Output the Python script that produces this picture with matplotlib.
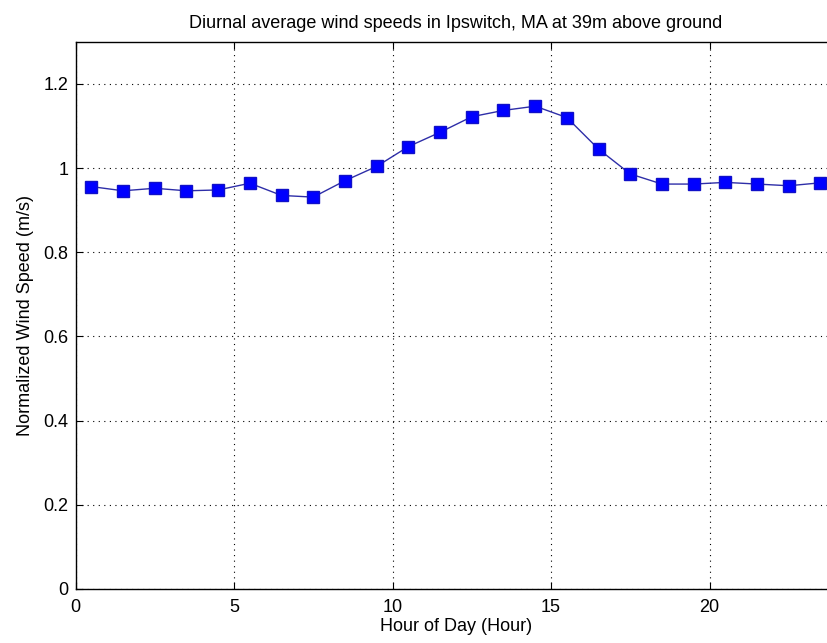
import matplotlib
matplotlib.use("Agg")
import matplotlib.pyplot as plt

hours = [0.5, 1.5, 2.5, 3.5, 4.5, 5.5, 6.5, 7.5, 8.5, 9.5, 10.5, 11.5,
         12.5, 13.5, 14.5, 15.5, 16.5, 17.5, 18.5, 19.5, 20.5, 21.5, 22.5, 23.5]
speed = [0.956, 0.946, 0.952, 0.946, 0.948, 0.964, 0.935, 0.931, 0.970, 1.004, 1.051, 1.085,
         1.122, 1.137, 1.147, 1.120, 1.045, 0.986, 0.962, 0.962, 0.966, 0.962, 0.958, 0.965]
xticks = [0, 5, 10, 15, 20]
yticks = [0, 0.2, 0.4, 0.6, 0.8, 1.0, 1.2]
yticklabels = ["0", "0.2", "0.4", "0.6", "0.8", "1", "1.2"]

plt.rcParams['font.family'] = ['Liberation Sans', 'DejaVu Sans']

fig = plt.figure(figsize=(8.27, 6.43), dpi=100)
ax = fig.add_axes([0.0913, 0.084, 0.920, 0.851])
ax.plot(hours, speed, color="#2e2ea8", linewidth=1.0, marker="s", markersize=8.5,
        markerfacecolor="#0000ff", markeredgecolor="#1010c8")
ax.set_xlim(0, 24)
ax.set_ylim(0, 1.3)
ax.set_xticks(xticks)
ax.set_yticks(yticks)
ax.set_yticklabels(yticklabels)
ax.grid(True, linestyle=(0, (1, 4)), color="black", linewidth=0.8)
ax.tick_params(direction="in", top=True, right=True, labelsize=13, length=5)
ax.tick_params(axis="x", pad=7)
ax.tick_params(axis="y", pad=5)
for s in ax.spines.values():
    s.set_linewidth(1.0)
ax.set_title("Diurnal average wind speeds in Ipswitch, MA at 39m above ground", fontsize=13, pad=10)
ax.set_xlabel("Hour of Day (Hour)", fontsize=13)
ax.set_ylabel("Normalized Wind Speed (m/s)", fontsize=13)
ax.xaxis.set_label_coords(0.5, -0.053)
ax.yaxis.set_label_coords(-0.055, 0.5)
fig.savefig("out.png", dpi=100)
